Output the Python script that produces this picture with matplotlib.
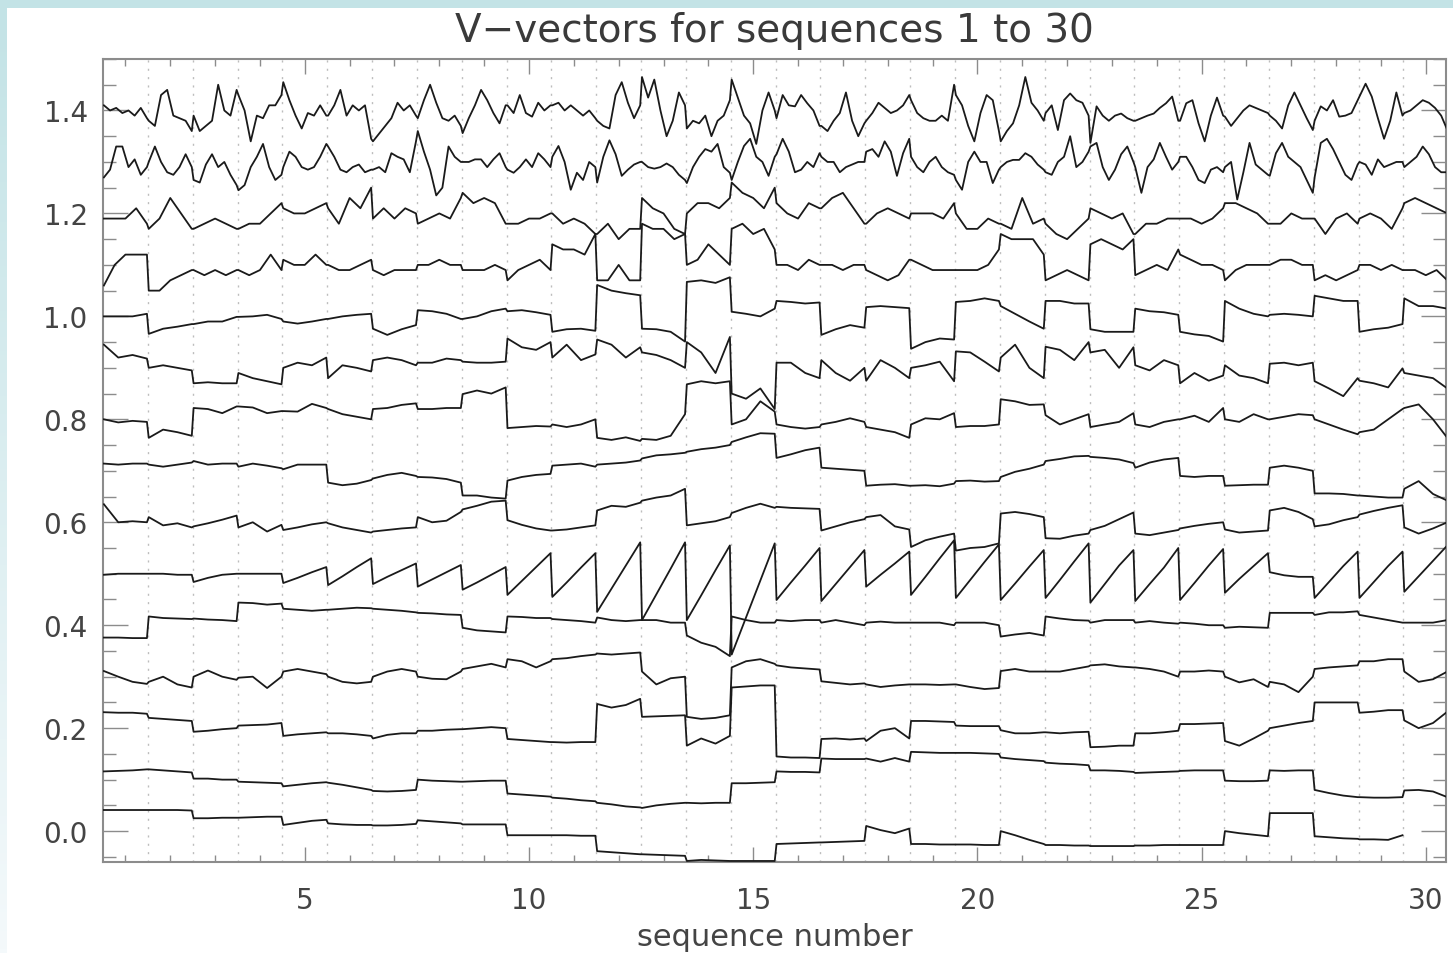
import numpy as np
import matplotlib
matplotlib.use("Agg")
import matplotlib.pyplot as plt
from matplotlib.ticker import MultipleLocator, FormatStrFormatter, FixedLocator
from matplotlib.patches import Rectangle
from matplotlib.colors import LinearSegmentedColormap

# ---------------- data ----------------
sequences = list(range(1, 31))
title_text = "V−vectors for sequences 1 to 30"
x_label = "sequence number"
x_major = [5, 10, 15, 20, 25, 30]
y_major = [0.0, 0.2, 0.4, 0.6, 0.8, 1.0, 1.2, 1.4]

# each series: one row per sequence, samples spread evenly across that sequence
v01 = [[1.41,1.40,1.405,1.395,1.40,1.39,1.405,1.385],[1.38,1.37,1.43,1.44,1.39,1.385,1.38,1.36],
       [1.39,1.36,1.37,1.38,1.45,1.40,1.39,1.44],[1.43,1.40,1.34,1.39,1.385,1.41,1.41,1.43],
       [1.455,1.42,1.39,1.365,1.395,1.39,1.41,1.39],[1.39,1.41,1.44,1.39,1.41,1.40,1.41,1.345],
       [1.34,1.355,1.37,1.385,1.415,1.40,1.41,1.39],[1.385,1.42,1.45,1.415,1.385,1.38,1.39,1.37],
       [1.356,1.385,1.41,1.44,1.42,1.395,1.375,1.41],[1.41,1.395,1.43,1.395,1.388,1.415,1.40,1.41],
       [1.41,1.415,1.40,1.41,1.40,1.39,1.40,1.385],[1.38,1.37,1.365,1.43,1.455,1.415,1.385,1.41],
       [1.465,1.425,1.46,1.40,1.35,1.38,1.435,1.41],[1.365,1.38,1.375,1.39,1.35,1.38,1.39,1.42],
       [1.46,1.425,1.39,1.375,1.335,1.40,1.435,1.40],[1.385,1.43,1.41,1.408,1.43,1.414,1.40,1.37],
       [1.37,1.36,1.38,1.395,1.435,1.38,1.35,1.375],[1.38,1.395,1.415,1.405,1.395,1.40,1.41,1.43],
       [1.42,1.395,1.385,1.38,1.38,1.39,1.38,1.45],[1.43,1.41,1.37,1.34,1.395,1.43,1.42,1.36],
       [1.34,1.36,1.375,1.41,1.465,1.415,1.40,1.38],[1.395,1.41,1.362,1.42,1.433,1.42,1.415,1.39],
       [1.337,1.408,1.39,1.38,1.39,1.394,1.385,1.38],[1.38,1.385,1.39,1.394,1.405,1.414,1.427,1.38],
       [1.38,1.414,1.42,1.375,1.34,1.39,1.425,1.39],[1.388,1.37,1.385,1.40,1.41,1.405,1.40,1.395],
       [1.39,1.38,1.365,1.41,1.435,1.41,1.385,1.362],[1.38,1.408,1.40,1.42,1.388,1.39,1.395,1.42],
       [1.427,1.452,1.427,1.385,1.345,1.38,1.435,1.39],[1.395,1.40,1.41,1.42,1.415,1.405,1.39,1.362]]
v02 = [[1.27,1.285,1.33,1.33,1.29,1.305,1.275,1.29],[1.30,1.33,1.30,1.28,1.275,1.29,1.315,1.29],
       [1.265,1.26,1.295,1.315,1.29,1.30,1.275,1.255],[1.245,1.255,1.29,1.31,1.335,1.29,1.265,1.275],
       [1.29,1.32,1.31,1.29,1.285,1.29,1.31,1.335],[1.33,1.31,1.285,1.28,1.29,1.295,1.28,1.285],
       [1.285,1.29,1.28,1.317,1.31,1.305,1.28,1.34],[1.36,1.32,1.285,1.235,1.25,1.33,1.31,1.30],
       [1.30,1.30,1.305,1.305,1.29,1.305,1.317,1.29],[1.285,1.279,1.29,1.305,1.29,1.317,1.305,1.29],
       [1.31,1.331,1.30,1.246,1.279,1.265,1.30,1.29],[1.26,1.31,1.342,1.315,1.273,1.285,1.295,1.30],
       [1.30,1.29,1.287,1.29,1.297,1.29,1.275,1.265],[1.259,1.29,1.31,1.325,1.32,1.335,1.29,1.279],
       [1.265,1.30,1.331,1.345,1.31,1.30,1.273,1.31],[1.315,1.345,1.32,1.28,1.285,1.30,1.29,1.317],
       [1.31,1.30,1.30,1.28,1.29,1.295,1.30,1.30],[1.32,1.325,1.31,1.34,1.32,1.273,1.317,1.345],
       [1.31,1.29,1.28,1.30,1.31,1.29,1.28,1.275],[1.265,1.246,1.30,1.32,1.30,1.30,1.259,1.285],
       [1.29,1.30,1.304,1.304,1.317,1.31,1.295,1.285],[1.28,1.275,1.30,1.31,1.35,1.29,1.30,1.32],
       [1.33,1.337,1.29,1.265,1.285,1.315,1.33,1.30],[1.29,1.24,1.29,1.305,1.337,1.31,1.285,1.30],
       [1.31,1.31,1.29,1.265,1.259,1.285,1.29,1.28],[1.29,1.30,1.227,1.28,1.337,1.295,1.285,1.275],
       [1.273,1.317,1.337,1.31,1.30,1.29,1.265,1.24],[1.27,1.337,1.345,1.325,1.30,1.275,1.265,1.295],
       [1.30,1.295,1.275,1.305,1.29,1.295,1.30,1.30],[1.29,1.30,1.31,1.33,1.315,1.29,1.28,1.28]]
v03 = [[1.19,1.19,1.19,1.21,1.18],[1.17,1.19,1.23,1.20,1.17],[1.17,1.18,1.19,1.18,1.17],
       [1.17,1.18,1.18,1.20,1.22],[1.21,1.20,1.20,1.21,1.22],[1.21,1.18,1.23,1.21,1.25],
       [1.19,1.21,1.19,1.21,1.20],[1.18,1.19,1.20,1.19,1.23],[1.24,1.22,1.23,1.22,1.18],
       [1.18,1.18,1.19,1.19,1.20],[1.20,1.18,1.19,1.18,1.16],[1.16,1.18,1.15,1.17,1.17],
       [1.23,1.21,1.20,1.17,1.16],[1.20,1.22,1.22,1.21,1.23],[1.26,1.24,1.23,1.21,1.25],
       [1.22,1.20,1.19,1.22,1.21],[1.21,1.23,1.24,1.21,1.18],[1.18,1.20,1.21,1.20,1.19],
       [1.20,1.20,1.20,1.19,1.22],[1.20,1.17,1.17,1.19,1.18],[1.18,1.17,1.23,1.18,1.19],
       [1.18,1.16,1.15,1.17,1.19],[1.21,1.20,1.19,1.20,1.16],[1.16,1.18,1.18,1.19,1.19],
       [1.19,1.19,1.18,1.19,1.21],[1.22,1.22,1.21,1.20,1.18],[1.18,1.18,1.20,1.19,1.19],
       [1.19,1.16,1.19,1.20,1.18],[1.19,1.20,1.19,1.17,1.21],[1.22,1.23,1.22,1.21,1.20]]
v04 = [[1.06,1.10,1.12,1.12,1.12],[1.05,1.05,1.07,1.08,1.09],[1.09,1.08,1.09,1.08,1.09],
       [1.09,1.08,1.09,1.12,1.09],[1.11,1.10,1.10,1.12,1.10],[1.10,1.09,1.09,1.10,1.11],
       [1.09,1.08,1.09,1.09,1.09],[1.10,1.10,1.11,1.10,1.10],[1.09,1.09,1.09,1.10,1.09],
       [1.07,1.09,1.10,1.11,1.09],[1.14,1.13,1.13,1.12,1.16],[1.07,1.07,1.10,1.07,1.07],
       [1.18,1.17,1.17,1.15,1.16],[1.10,1.11,1.14,1.12,1.10],[1.17,1.18,1.16,1.17,1.13],
       [1.10,1.10,1.09,1.11,1.10],[1.10,1.10,1.09,1.10,1.10],[1.09,1.08,1.07,1.08,1.11],
       [1.11,1.10,1.09,1.09,1.09],[1.09,1.09,1.09,1.10,1.13],[1.16,1.15,1.15,1.15,1.12],
       [1.07,1.08,1.09,1.08,1.07],[1.14,1.15,1.14,1.13,1.15],[1.08,1.09,1.10,1.09,1.13],
       [1.12,1.11,1.10,1.10,1.09],[1.07,1.09,1.10,1.10,1.10],[1.10,1.11,1.11,1.10,1.10],
       [1.07,1.08,1.07,1.08,1.09],[1.10,1.10,1.09,1.10,1.09],[1.09,1.09,1.08,1.09,1.07]]
v05 = [[1.00,1.00,1.00,1.005],[0.966,0.976,0.98,0.985],[0.985,0.99,0.99,0.999],
       [0.999,1.00,1.003,0.995],[0.99,0.986,0.99,0.995],[0.995,1.00,1.003,1.005],
       [0.976,0.964,0.975,0.983],[1.012,1.01,1.005,0.995],[0.995,1.00,1.01,1.015],
       [1.01,1.012,1.008,1.003],[0.97,0.975,0.976,0.972],[1.061,1.05,1.045,1.041],
       [0.976,0.975,0.97,0.951],[1.067,1.07,1.065,1.076],[1.009,1.005,1.00,1.015],
       [1.03,1.028,1.025,1.027],[0.964,0.975,0.983,0.978],[1.018,1.02,1.018,1.016],
       [0.937,0.95,0.957,0.955],[1.028,1.03,1.035,1.03],[1.02,1.005,0.99,0.976],
       [1.03,1.03,1.025,1.025],[0.975,0.97,0.97,0.97],[1.015,1.01,1.008,1.003],
       [0.97,0.965,0.962,0.951],[1.03,1.015,1.005,1.00],[1.003,1.005,1.003,1.00],
       [1.04,1.035,1.03,1.03],[0.97,0.975,0.978,0.985],[1.035,1.02,1.02,1.015]]
v06 = [[0.945,0.92,0.925,0.918],[0.90,0.905,0.90,0.895],[0.87,0.872,0.87,0.87],
       [0.89,0.88,0.874,0.868],[0.90,0.91,0.905,0.92],[0.88,0.905,0.90,0.893],
       [0.915,0.92,0.915,0.905],[0.91,0.91,0.918,0.915],[0.912,0.91,0.91,0.912],
       [0.957,0.94,0.935,0.95],[0.92,0.945,0.915,0.926],[0.955,0.945,0.92,0.94],
       [0.93,0.925,0.915,0.90],[0.95,0.93,0.89,0.96],[0.85,0.84,0.86,0.82],
       [0.91,0.91,0.89,0.88],[0.915,0.89,0.875,0.90],[0.875,0.915,0.90,0.88],
       [0.90,0.905,0.912,0.874],[0.932,0.93,0.912,0.893],[0.92,0.945,0.90,0.88],
       [0.941,0.935,0.915,0.95],[0.93,0.935,0.90,0.94],[0.905,0.895,0.915,0.905],
       [0.87,0.89,0.875,0.885],[0.905,0.885,0.88,0.87],[0.908,0.91,0.905,0.91],
       [0.874,0.86,0.845,0.88],[0.875,0.87,0.862,0.899],[0.89,0.885,0.88,0.86]]
v07 = [[0.80,0.794,0.797,0.795],[0.764,0.78,0.775,0.768],[0.822,0.82,0.812,0.825],
       [0.825,0.823,0.812,0.816],[0.816,0.815,0.83,0.822],[0.82,0.81,0.805,0.80],
       [0.82,0.822,0.828,0.831],[0.82,0.82,0.822,0.822],[0.849,0.856,0.85,0.862],
       [0.783,0.785,0.787,0.786],[0.79,0.785,0.79,0.80],[0.764,0.76,0.765,0.758],
       [0.762,0.76,0.768,0.81],[0.868,0.874,0.87,0.874],[0.79,0.80,0.835,0.815],
       [0.79,0.785,0.782,0.785],[0.79,0.795,0.802,0.795],[0.785,0.78,0.775,0.764],
       [0.79,0.802,0.80,0.812],[0.785,0.787,0.787,0.79],[0.839,0.835,0.828,0.829],
       [0.808,0.79,0.80,0.81],[0.785,0.79,0.795,0.812],[0.79,0.785,0.795,0.80],
       [0.80,0.807,0.795,0.822],[0.80,0.795,0.81,0.80],[0.80,0.805,0.81,0.808],
       [0.80,0.79,0.78,0.771],[0.775,0.78,0.80,0.82],[0.822,0.829,0.80,0.764]]
v08 = [[0.714,0.712,0.714,0.714],[0.712,0.708,0.712,0.716],[0.719,0.712,0.714,0.714],
       [0.708,0.714,0.71,0.705],[0.703,0.712,0.712,0.712],[0.677,0.672,0.675,0.682],
       [0.685,0.692,0.696,0.69],[0.688,0.687,0.684,0.677],[0.652,0.652,0.648,0.646],
       [0.681,0.688,0.692,0.694],[0.71,0.712,0.714,0.708],[0.712,0.714,0.716,0.72],
       [0.724,0.73,0.732,0.735],[0.737,0.742,0.745,0.75],[0.756,0.765,0.773,0.772],
       [0.725,0.732,0.74,0.745],[0.706,0.704,0.702,0.70],[0.671,0.673,0.674,0.671],
       [0.671,0.672,0.67,0.675],[0.68,0.681,0.679,0.68],[0.688,0.698,0.704,0.712],
       [0.719,0.723,0.728,0.729],[0.727,0.725,0.722,0.715],[0.706,0.716,0.722,0.725],
       [0.69,0.688,0.69,0.69],[0.671,0.672,0.673,0.673],[0.706,0.71,0.706,0.70],
       [0.656,0.656,0.655,0.652],[0.652,0.65,0.648,0.648],[0.665,0.68,0.655,0.642]]
v09 = [[0.635,0.60,0.602,0.60],[0.61,0.594,0.598,0.59],[0.592,0.598,0.605,0.613],
       [0.59,0.60,0.582,0.595],[0.585,0.59,0.596,0.60],[0.598,0.59,0.585,0.58],
       [0.582,0.585,0.588,0.59],[0.61,0.60,0.603,0.62],[0.625,0.632,0.64,0.642],
       [0.604,0.595,0.588,0.584],[0.584,0.586,0.59,0.594],[0.623,0.632,0.63,0.638],
       [0.642,0.648,0.652,0.665],[0.594,0.598,0.602,0.61],[0.618,0.628,0.636,0.628],
       [0.63,0.628,0.627,0.626],[0.584,0.592,0.60,0.606],[0.61,0.614,0.592,0.586],
       [0.552,0.565,0.572,0.578],[0.545,0.55,0.552,0.559],[0.617,0.62,0.616,0.61],
       [0.569,0.568,0.574,0.578],[0.585,0.593,0.606,0.619],[0.578,0.575,0.58,0.585],
       [0.588,0.593,0.597,0.60],[0.586,0.58,0.582,0.584],[0.623,0.628,0.62,0.606],
       [0.592,0.596,0.604,0.61],[0.615,0.622,0.628,0.633],[0.59,0.578,0.588,0.60]]
v10 = [[0.498,0.50,0.50,0.50],[0.50,0.50,0.498,0.498],[0.484,0.492,0.498,0.50],
       [0.50,0.50,0.50,0.50],[0.482,0.492,0.503,0.513],[0.478,0.495,0.513,0.53],
       [0.48,0.494,0.507,0.52],[0.475,0.489,0.503,0.517],[0.469,0.483,0.498,0.513],
       [0.459,0.486,0.513,0.54],[0.455,0.483,0.512,0.54],[0.426,0.471,0.516,0.561],
       [0.41,0.46,0.51,0.561],[0.41,0.458,0.507,0.555],[0.343,0.415,0.487,0.559],
       [0.449,0.483,0.516,0.55],[0.447,0.48,0.513,0.546],[0.475,0.498,0.52,0.543],
       [0.459,0.494,0.53,0.565],[0.453,0.488,0.523,0.557],[0.449,0.481,0.514,0.546],
       [0.453,0.488,0.524,0.559],[0.444,0.48,0.516,0.546],[0.447,0.48,0.512,0.55],
       [0.449,0.482,0.516,0.548],[0.463,0.49,0.515,0.54],[0.503,0.497,0.494,0.494],
       [0.453,0.484,0.515,0.543],[0.453,0.484,0.515,0.543],[0.465,0.495,0.525,0.555]]
v11 = [[0.376,0.376,0.375,0.375],[0.417,0.414,0.413,0.412],[0.413,0.411,0.41,0.408],
       [0.444,0.443,0.44,0.442],[0.432,0.43,0.428,0.43],[0.43,0.432,0.434,0.433],
       [0.432,0.43,0.428,0.425],[0.424,0.423,0.421,0.42],[0.395,0.39,0.388,0.386],
       [0.417,0.416,0.414,0.414],[0.412,0.41,0.408,0.405],[0.415,0.41,0.408,0.41],
       [0.41,0.41,0.405,0.405],[0.38,0.366,0.358,0.34],[0.417,0.41,0.405,0.405],
       [0.41,0.408,0.41,0.41],[0.405,0.41,0.405,0.40],[0.405,0.407,0.405,0.405],
       [0.405,0.405,0.405,0.40],[0.405,0.405,0.405,0.40],[0.378,0.382,0.385,0.38],
       [0.417,0.413,0.41,0.409],[0.405,0.41,0.41,0.41],[0.405,0.408,0.405,0.403],
       [0.405,0.403,0.40,0.40],[0.395,0.397,0.396,0.395],[0.424,0.424,0.424,0.424],
       [0.42,0.425,0.425,0.427],[0.42,0.415,0.41,0.405],[0.405,0.405,0.405,0.41]]
v12 = [[0.311,0.30,0.29,0.286],[0.29,0.30,0.285,0.279],[0.30,0.312,0.30,0.294],
       [0.298,0.30,0.278,0.30],[0.31,0.315,0.31,0.305],[0.30,0.29,0.287,0.29],
       [0.30,0.31,0.315,0.31],[0.30,0.296,0.295,0.31],[0.315,0.32,0.325,0.318],
       [0.334,0.33,0.318,0.33],[0.334,0.336,0.34,0.343],[0.345,0.343,0.345,0.347],
       [0.31,0.285,0.297,0.30],[0.222,0.218,0.22,0.225],[0.318,0.33,0.334,0.325],
       [0.322,0.318,0.316,0.314],[0.291,0.288,0.285,0.287],[0.285,0.28,0.283,0.285],
       [0.285,0.285,0.284,0.285],[0.285,0.28,0.276,0.278],[0.311,0.315,0.31,0.31],
       [0.31,0.31,0.315,0.32],[0.322,0.324,0.32,0.318],[0.318,0.315,0.31,0.30],
       [0.31,0.31,0.312,0.31],[0.30,0.289,0.295,0.28],[0.29,0.285,0.27,0.30],
       [0.315,0.318,0.32,0.322],[0.33,0.33,0.334,0.334],[0.31,0.29,0.295,0.31]]
v13 = [[0.231,0.23,0.23,0.228],[0.22,0.218,0.216,0.214],[0.193,0.195,0.198,0.20],
       [0.205,0.206,0.207,0.21],[0.185,0.188,0.19,0.192],[0.19,0.19,0.188,0.185],
       [0.18,0.187,0.19,0.19],[0.195,0.195,0.197,0.198],[0.198,0.20,0.202,0.20],
       [0.179,0.177,0.175,0.173],[0.173,0.172,0.173,0.173],[0.247,0.24,0.245,0.257],
       [0.222,0.223,0.224,0.225],[0.166,0.18,0.17,0.185],[0.279,0.281,0.283,0.283],
       [0.145,0.143,0.143,0.142],[0.179,0.18,0.178,0.18],[0.175,0.195,0.20,0.18],
       [0.214,0.214,0.213,0.212],[0.205,0.204,0.204,0.204],[0.196,0.19,0.19,0.192],
       [0.192,0.19,0.192,0.193],[0.163,0.164,0.166,0.166],[0.19,0.19,0.192,0.195],
       [0.208,0.208,0.209,0.21],[0.175,0.166,0.18,0.195],[0.20,0.205,0.21,0.214],
       [0.25,0.25,0.25,0.25],[0.23,0.232,0.235,0.235],[0.215,0.20,0.21,0.232]]
v14 = [[0.116,0.117,0.118,0.12],[0.12,0.118,0.116,0.114],[0.102,0.102,0.10,0.10],
       [0.096,0.095,0.094,0.093],[0.087,0.09,0.093,0.095],[0.094,0.09,0.085,0.08],
       [0.078,0.077,0.078,0.08],[0.10,0.098,0.097,0.096],[0.096,0.097,0.098,0.098],
       [0.073,0.071,0.069,0.067],[0.065,0.063,0.06,0.058],[0.055,0.052,0.048,0.046],
       [0.045,0.05,0.053,0.055],[0.055,0.054,0.055,0.055],[0.093,0.093,0.094,0.095],
       [0.116,0.115,0.115,0.114],[0.141,0.14,0.14,0.14],[0.141,0.135,0.142,0.135],
       [0.154,0.153,0.152,0.152],[0.152,0.152,0.151,0.15],[0.143,0.14,0.138,0.136],
       [0.133,0.131,0.13,0.128],[0.118,0.118,0.117,0.115],[0.113,0.114,0.115,0.116],
       [0.117,0.118,0.118,0.118],[0.098,0.097,0.097,0.098],[0.118,0.117,0.118,0.118],
       [0.08,0.074,0.069,0.066],[0.066,0.065,0.065,0.066],[0.079,0.08,0.077,0.066]]
v15 = [[0.041,0.041,0.041,0.041],[0.041,0.041,0.041,0.040],[0.025,0.025,0.026,0.026],
       [0.026,0.027,0.028,0.028],[0.012,0.016,0.02,0.022],[0.015,0.013,0.012,0.012],
       [0.011,0.011,0.012,0.014],[0.021,0.019,0.017,0.015],[0.013,0.013,0.013,0.013],
       [-0.008,-0.008,-0.008,-0.008],[-0.008,-0.008,-0.009,-0.009],[-0.039,-0.041,-0.043,-0.045],
       [-0.045,-0.046,-0.047,-0.048],[-0.058,-0.056,-0.057,-0.058],[-0.058,-0.058,-0.058,-0.058],
       [-0.025,-0.024,-0.023,-0.022],[-0.022,-0.021,-0.02,-0.019],[0.01,0.002,-0.004,0.005],
       [-0.025,-0.025,-0.026,-0.026],[-0.026,-0.026,-0.027,-0.027],[0.0,-0.008,-0.017,-0.025],
       [-0.027,-0.027,-0.028,-0.028],[-0.029,-0.029,-0.029,-0.029],[-0.028,-0.028,-0.027,-0.027],
       [-0.027,-0.027,-0.027,-0.027],[0.0,-0.004,-0.007,-0.01],[0.035,0.035,0.035,0.035],
       [-0.01,-0.012,-0.014,-0.015],[-0.016,-0.016,-0.017,-0.008],[np.nan,np.nan,np.nan,np.nan]]

series = [v01, v02, v03, v04, v05, v06, v07, v08, v09, v10, v11, v12, v13, v14, v15]

# ---------------- figure ----------------
W, H = 1453, 954
fig = plt.figure(figsize=(W / 100, H / 100), dpi=100, facecolor="white")

# light cyan frame on top and left edge
fig.patches.append(Rectangle((0, 1 - 9 / H), 1, 9 / H, transform=fig.transFigure,
                             facecolor="#c3e3e6", edgecolor="none", zorder=0))
band = fig.add_axes([0, 0, 7 / W, 1 - 9 / H])
cmap = LinearSegmentedColormap.from_list("band", ["#f4f9fb", "#c3e3e6"])
band.imshow(np.linspace(0, 1, 256)[:, None], aspect="auto", cmap=cmap, origin="lower",
            extent=[0, 1, 0, 1])
band.axis("off")

ax = fig.add_axes([103 / W, 1 - 863 / H, (1446 - 103) / W, (863 - 60) / H])

seq_arr = np.array(sequences, dtype=float)
for v in series:
    arr = np.array(v, dtype=float)
    n = arr.shape[1]
    frac = np.linspace(-0.48, 0.48, n)
    x = (seq_arr[:, None] + frac[None, :]).ravel()
    ax.plot(x, arr.ravel(), color="#1a1a1a", lw=1.3, zorder=3)

# dotted separators between sequences
for s in sequences[:-1]:
    ax.axvline(s + 0.5, color="#bdbdbd", lw=1.0, ls=(0, (1.5, 4.5)), zorder=1)

ax.set_xlim(0.5, 30.45)
ax.set_ylim(-0.06, 1.5)

ax.xaxis.set_major_locator(FixedLocator(x_major))
ax.xaxis.set_minor_locator(MultipleLocator(1))
ax.yaxis.set_major_locator(FixedLocator(y_major))
ax.yaxis.set_minor_locator(MultipleLocator(0.05))
ax.yaxis.set_major_formatter(FormatStrFormatter("%.1f"))

spine_col = "#8c8c8c"
for sp in ax.spines.values():
    sp.set_color(spine_col)
    sp.set_linewidth(1.5)

ax.tick_params(axis="both", which="both", direction="in", top=True, right=True,
               color=spine_col, width=1.0, labelcolor="#444444")
ax.tick_params(axis="y", which="major", length=18, labelsize=20, pad=11)
ax.tick_params(axis="y", which="minor", length=9.5)
ax.tick_params(axis="x", which="major", length=11, labelsize=20, pad=17)
ax.tick_params(axis="x", which="minor", length=5)

ax.set_xlabel(x_label, fontsize=22, color="#444444", labelpad=6)
ax.set_title(title_text, fontsize=28, color="#3a3a3a", pad=13)

fig.savefig("out.png", dpi=100, facecolor=fig.get_facecolor())
